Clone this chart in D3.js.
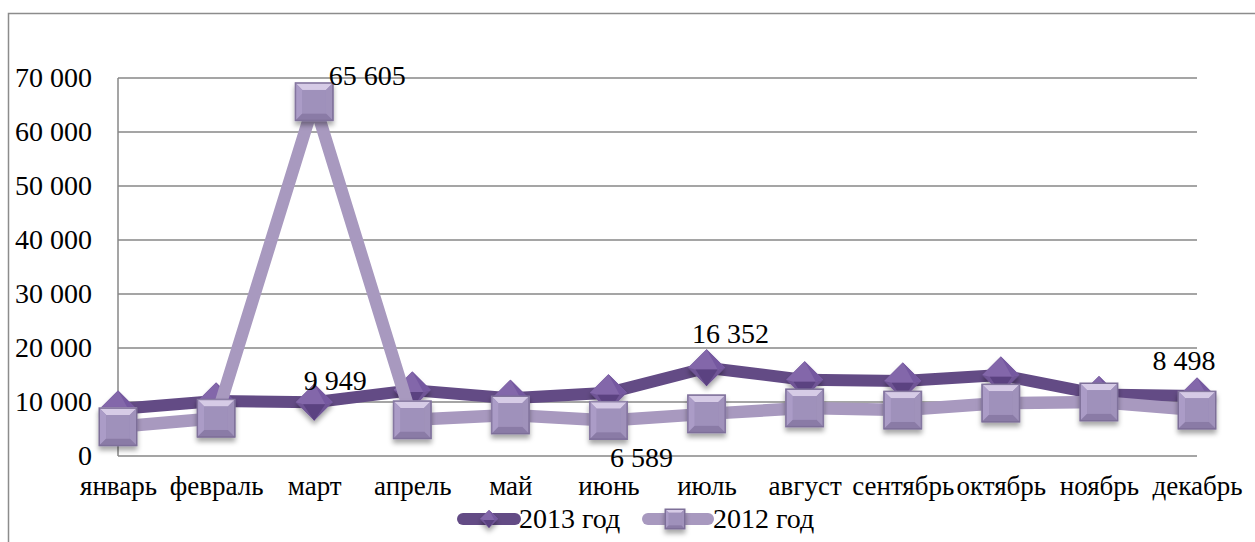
<!DOCTYPE html>
<html>
<head>
<meta charset="utf-8">
<script src="https://cdn.jsdelivr.net/npm/d3@7"></script>
<style>
  body { margin: 0; background: #fff; }
  svg { display: block; }
  svg text { font-family: "Liberation Serif", "Tinos", "Times New Roman", "Times", "Nimbus Roman", "DejaVu Serif", "Noto Serif", serif; }
</style>
</head>
<body>
<svg id="chart" width="1255" height="542"></svg>
<script>
const months = ["январь", "февраль", "март", "апрель", "май", "июнь",
  "июль", "август", "сентябрь", "октябрь", "ноябрь", "декабрь"];
const values2013 = [8700, 10200, 9949, 12200, 10700, 11700, 16352, 14100, 13900, 15000, 11400, 11100];
const values2012 = [5400, 7000, 65605, 6700, 7600, 6589, 7800, 8900, 8500, 9800, 10000, 8498];
const yTicks = [0, 10000, 20000, 30000, 40000, 50000, 60000, 70000];
const seriesNames = ["2013 год", "2012 год"];

// which points carry a value label (month index)
const labels2013 = [2, 6];
const labels2012 = [2, 5, 11];

(function drawChart() {
  const svg = d3.select("#chart");
  const width = 1255, height = 542;
  const margin = { top: 78, left: 118, right: 58, bottom: 86 };
  const innerWidth = width - margin.left - margin.right;
  const innerHeight = height - margin.top - margin.bottom;
  const fontSize = 28;

  const fmt = d3.formatLocale({ decimal: ",", thousands: " ", grouping: [3], currency: ["", ""] }).format(",d");

  // outer chart frame
  svg.append("rect")
    .attr("x", 8.5).attr("y", 13.5)
    .attr("width", 1260).attr("height", 540)
    .attr("fill", "none").attr("stroke", "#8c8c8c").attr("stroke-width", 1.5);

  const defs = svg.append("defs");
  const shadow = defs.append("filter").attr("id", "shadow")
    .attr("x", "-50%").attr("y", "-50%").attr("width", "200%").attr("height", "200%");
  shadow.append("feDropShadow").attr("dx", 0).attr("dy", 4).attr("stdDeviation", 2.5)
    .attr("flood-color", "#000").attr("flood-opacity", 0.35);

  const g = svg.append("g").attr("transform", `translate(${margin.left},${margin.top})`);

  const x = d3.scalePoint().domain(months).range([0, innerWidth]);
  const y = d3.scaleLinear().domain([0, 70000]).range([innerHeight, 0]);

  // gridlines
  g.append("g").selectAll("line").data(yTicks).enter().append("line")
    .attr("x1", 0).attr("x2", innerWidth)
    .attr("y1", d => y(d)).attr("y2", d => y(d))
    .attr("stroke", "#878787").attr("stroke-width", 1.5);

  g.append("line")
    .attr("x1", 0).attr("x2", 0).attr("y1", 0).attr("y2", innerHeight)
    .attr("stroke", "#878787").attr("stroke-width", 1.5);

  // y axis labels
  const yAxis = g.append("g")
    .call(d3.axisLeft(y).tickValues(yTicks).tickFormat(fmt).tickSize(0).tickPadding(26));
  yAxis.select(".domain").remove();
  yAxis.selectAll("text").attr("font-size", fontSize).attr("fill", "#000");

  // x axis labels
  const xAxis = g.append("g").attr("transform", `translate(0,${innerHeight})`)
    .call(d3.axisBottom(x).tickSize(0).tickPadding(20));
  xAxis.select(".domain").remove();
  xAxis.selectAll("text").attr("font-size", 27).attr("fill", "#000");

  const line = d3.line().x((d, i) => x(months[i])).y(d => y(d));

  function drawDiamond(sel, s) {
    sel.append("polygon")
      .attr("points", `0,${-s} ${s},0 0,${s} ${-s},0`)
      .attr("fill", "#6f5496").attr("filter", "url(#shadow)");
    sel.append("polygon")
      .attr("points", `0,${-s} ${s},0 ${s * 0.6},${s * 0.1} ${-s * 0.6},${s * 0.1} ${-s},0`)
      .attr("fill", "#8367aa");
    sel.append("polygon")
      .attr("points", `${-s * 0.6},${s * 0.1} ${s * 0.6},${s * 0.1} 0,${s}`)
      .attr("fill", "#5b4281");
    sel.append("polygon")
      .attr("points", `0,${-s} ${s},0 ${s * 0.6},${s * 0.1}`)
      .attr("fill", "#7558a0");
  }

  function drawSquare(sel, s) {
    const b = s * 0.38;
    sel.append("rect")
      .attr("x", -s).attr("y", -s).attr("width", 2 * s).attr("height", 2 * s)
      .attr("fill", "#9a8bb6").attr("stroke", "#7d6f98").attr("stroke-width", 1)
      .attr("filter", "url(#shadow)");
    sel.append("polygon")
      .attr("points", `${-s},${-s} ${s},${-s} ${s - b},${-s + b} ${-s + b},${-s + b}`)
      .attr("fill", "#d6cbe6");
    sel.append("polygon")
      .attr("points", `${-s},${-s} ${-s + b},${-s + b} ${-s + b},${s - b} ${-s},${s}`)
      .attr("fill", "#ab9cc7");
    sel.append("polygon")
      .attr("points", `${s},${-s} ${s - b},${-s + b} ${s - b},${s - b} ${s},${s}`)
      .attr("fill", "#a092bb");
    sel.append("polygon")
      .attr("points", `${-s},${s} ${s},${s} ${s - b},${s - b} ${-s + b},${s - b}`)
      .attr("fill", "#8a7ba6");
    sel.append("rect")
      .attr("x", -s + b).attr("y", -s + b).attr("width", 2 * (s - b)).attr("height", 2 * (s - b))
      .attr("fill", "#9f91bb");
    sel.append("rect")
      .attr("x", -s + 0.5).attr("y", -s + 0.5).attr("width", 2 * s - 1).attr("height", 2 * s - 1)
      .attr("fill", "none").attr("stroke", "#7d6f98").attr("stroke-width", 1);
  }

  // 2013 series
  g.append("path").datum(values2013)
    .attr("d", line).attr("fill", "none")
    .attr("stroke", "#634b85").attr("stroke-width", 12)
    .attr("stroke-linejoin", "round").attr("stroke-linecap", "round");
  g.append("g").selectAll("g").data(values2013).enter().append("g")
    .attr("transform", (d, i) => `translate(${x(months[i])},${y(d)})`)
    .each(function() { drawDiamond(d3.select(this), 18.5); });

  // 2012 series
  g.append("path").datum(values2012)
    .attr("d", line).attr("fill", "none")
    .attr("stroke", "#a899bf").attr("stroke-width", 12.5)
    .attr("stroke-linejoin", "round").attr("stroke-linecap", "round");
  g.append("g").selectAll("g").data(values2012).enter().append("g")
    .attr("transform", (d, i) => `translate(${x(months[i])},${y(d)})`)
    .each(function() { drawSquare(d3.select(this), 19); });

  // data labels (offsets are placement only)
  const labelOffsets2013 = { 2: [21, -12], 6: [24, -25] };
  const labelOffsets2012 = { 2: [53, -17], 5: [33, 47], 11: [-13, -40] };

  const labelG = g.append("g").attr("font-size", fontSize).attr("fill", "#000").attr("text-anchor", "middle");
  labels2013.forEach(i => {
    labelG.append("text")
      .attr("x", x(months[i]) + labelOffsets2013[i][0])
      .attr("y", y(values2013[i]) + labelOffsets2013[i][1])
      .text(fmt(values2013[i]));
  });
  labels2012.forEach(i => {
    labelG.append("text")
      .attr("x", x(months[i]) + labelOffsets2012[i][0])
      .attr("y", y(values2012[i]) + labelOffsets2012[i][1])
      .text(fmt(values2012[i]));
  });

  // legend
  const legend = svg.append("g").attr("font-size", fontSize);
  const l1 = legend.append("g");
  l1.append("line").attr("x1", 463).attr("x2", 515).attr("y1", 519).attr("y2", 519)
    .attr("stroke", "#634b85").attr("stroke-width", 12).attr("stroke-linecap", "round");
  drawDiamond(l1.append("g").attr("transform", "translate(489,519)"), 9);
  l1.append("text").attr("x", 519).attr("y", 528).text(seriesNames[0]);

  const l2 = legend.append("g");
  l2.append("line").attr("x1", 648).attr("x2", 708).attr("y1", 519).attr("y2", 519)
    .attr("stroke", "#a899bf").attr("stroke-width", 12).attr("stroke-linecap", "round");
  drawSquare(l2.append("g").attr("transform", "translate(675,519)"), 10);
  l2.append("text").attr("x", 713).attr("y", 528).text(seriesNames[1]);
})();
</script>
</body>
</html>
